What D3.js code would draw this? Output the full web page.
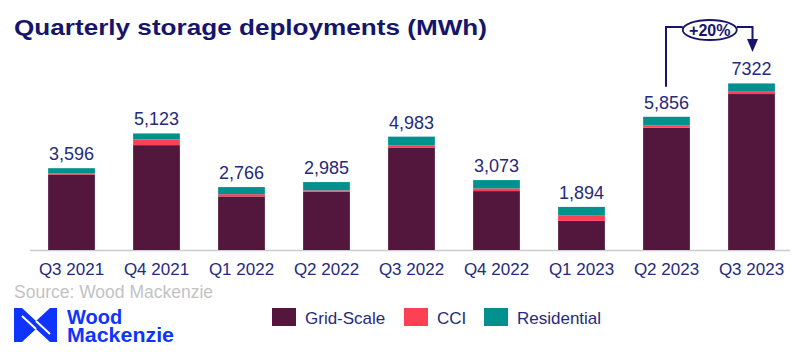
<!DOCTYPE html>
<html><head><meta charset="utf-8">
<script src="https://cdn.jsdelivr.net/npm/d3@7"></script>
<style>body{margin:0;background:#fff}svg{display:block}</style>
</head><body><svg id="c" width="796" height="352"></svg>
<script>
const categories = ["Q3 2021","Q4 2021","Q1 2022","Q2 2022","Q3 2022","Q4 2022","Q1 2023","Q2 2023","Q3 2023"];
const gridScale   = [3320, 4610, 2355, 2565, 4487, 2590, 1280, 5374, 6856];
const cci         = [  50,  250,  100,   55,  100,  117,  250,  100,  100];
const residential = [ 226,  263,  311,  365,  396,  366,  364,  382,  366];
const totalLabels = ["3,596","5,123","2,766","2,985","4,983","3,073","1,894","5,856","7322"];
const seriesNames = ["Grid-Scale","CCI","Residential"];
const colors = ["#53163d","#fd4155","#00918f"];
const growthLabel = "+20%";

const svg = d3.select("#c");
const F = "'Liberation Sans', Arial, sans-serif";
const navy = "#16156b";

const x = d3.scaleBand().domain(categories).range([29, 794]).paddingInner(0.45).paddingOuter(0.225);
const y = d3.scaleLinear().domain([0, 8000]).range([250, 250 - 8000 * 0.02275]);

const rows = categories.map((c, i) => ({cat: c, "Grid-Scale": gridScale[i], "CCI": cci[i], "Residential": residential[i]}));
const stack = d3.stack().keys(seriesNames)(rows);

svg.append("text").attr("x", 14).attr("y", 35).attr("font-family", F).attr("font-weight", "bold")
  .attr("font-size", 22).attr("fill", navy)
  .attr("textLength", 473).attr("lengthAdjust", "spacingAndGlyphs")
  .text("Quarterly storage deployments (MWh)");

// axis line
svg.append("line").attr("x1", 30).attr("x2", 790).attr("y1", 250.5).attr("y2", 250.5)
  .attr("stroke", "#cccccc").attr("stroke-width", 1.5);

stack.forEach((s, k) => {
  svg.append("g").selectAll("rect").data(s).join("rect")
    .attr("x", d => x(d.data.cat)).attr("width", x.bandwidth())
    .attr("y", d => y(d[1])).attr("height", d => y(d[0]) - y(d[1]))
    .attr("fill", colors[k]);
});

const topLayer = stack[stack.length - 1];
svg.append("g").selectAll("text").data(topLayer).join("text")
  .attr("x", d => x(d.data.cat) + x.bandwidth() / 2).attr("y", d => y(d[1]) - 8)
  .attr("text-anchor", "middle").attr("font-family", F).attr("font-size", 18).attr("fill", "#262a7c")
  .text((d, i) => totalLabels[i]);

// x axis labels
const xa = svg.append("g").attr("transform", "translate(0,250)")
  .call(d3.axisBottom(x).tickSize(0).tickPadding(10));
xa.select(".domain").remove();
xa.selectAll("text").attr("font-family", F).attr("font-size", 17).attr("fill", "#262a7c").attr("dy", "0.9em");

// source
svg.append("text").attr("x", 14).attr("y", 298).attr("font-family", F).attr("font-size", 17.5)
  .attr("fill", "#c3c3c3").text("Source: Wood Mackenzie");

// logo
const blue = "#1034ff";
const lg = svg.append("g");
lg.append("path").attr("fill", blue)
  .attr("d", "M14,308 L22,308 L36,321 L50,308 L57,308 L57,342 L50,342 L36,329 L22,342 L14,342 Z");
lg.append("path").attr("stroke", "#fff").attr("stroke-width", 2).attr("fill", "none")
  .attr("d", "M22,316 L36,329 M36,321 L50,334");
const lt = lg.append("text").attr("font-family", F).attr("font-weight", "bold")
  .attr("font-size", 20).attr("fill", blue);
lt.append("tspan").attr("x", 67).attr("y", 323.5).text("Wood");
lt.append("tspan").attr("x", 67).attr("y", 341.5).attr("textLength", 107).attr("lengthAdjust", "spacingAndGlyphs").text("Mackenzie");

// legend
const legX = [272, 404, 484];
seriesNames.forEach((n, k) => {
  svg.append("rect").attr("x", legX[k]).attr("y", 308).attr("width", 24).attr("height", 18).attr("fill", colors[k]);
  svg.append("text").attr("x", legX[k] + 33).attr("y", 324).attr("font-family", F).attr("font-size", 17)
    .attr("fill", "#262a7c").text(n);
});

// growth annotation
const a = categories[7], b = categories[8];
const ax = x(a) + x.bandwidth() / 2 - 0.5, bx = x(b) + x.bandwidth() / 2 + 1;
const ly = 27, ex = (ax + bx) / 2 + 0.5;
svg.append("path").attr("fill", "none").attr("stroke", navy).attr("stroke-width", 2)
  .attr("d", `M${ax},${y(gridScale[7] + cci[7] + residential[7]) - 30} L${ax},${ly} L${ex - 27},${ly} M${ex + 27},${ly} L${bx},${ly} L${bx},${ly + 14}`);
svg.append("path").attr("fill", navy)
  .attr("d", `M${bx - 5.5},${ly + 12} L${bx + 5.5},${ly + 12} L${bx},${ly + 25} Z`);
svg.append("ellipse").attr("cx", ex).attr("cy", ly + 3).attr("rx", 27).attr("ry", 10)
  .attr("fill", "#fff").attr("stroke", navy).attr("stroke-width", 1.8);
svg.append("text").attr("x", ex).attr("y", ly + 8.5).attr("text-anchor", "middle").attr("font-family", F)
  .attr("font-weight", "bold").attr("font-size", 16).attr("fill", navy).text(growthLabel);
</script></body></html>
